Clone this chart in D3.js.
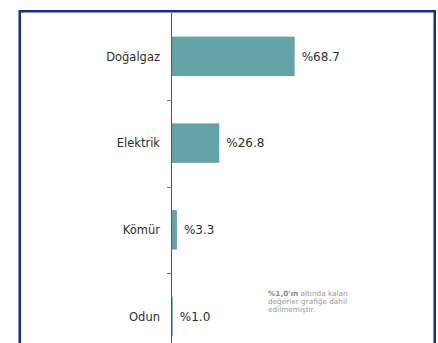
<!DOCTYPE html>
<html>
<head>
<meta charset="utf-8">
<script src="https://cdn.jsdelivr.net/npm/d3@7/dist/d3.min.js"></script>
<style>
  html, body { margin: 0; padding: 0; background: #fff; }
  svg { display: block; }
  text { font-family: "DejaVu Sans", Verdana, sans-serif; }
</style>
</head>
<body>
<svg id="chart" width="438" height="343"></svg>
<script>
// Isınma amaçlı kullanılan enerji kaynakları (%)
const categories = ["Doğalgaz", "Elektrik", "Kömür", "Odun"];
const values = [68.7, 26.8, 3.3, 1.0];
const valueLabels = ["%68.7", "%26.8", "%3.3", "%1.0"];
const noteBold = "%1,0'ın";
const noteLines = [" altında kalan", "değerler grafiğe dahil", "edilmemiştir."];

const svg = d3.select("#chart");

// frame
svg.append("rect")
  .attr("x", 19.75).attr("y", 11.25)
  .attr("width", 415).attr("height", 360)
  .attr("fill", "none")
  .attr("stroke", "#13307a")
  .attr("stroke-width", 2.5);

const axisX = 171;
const x = d3.scaleLinear().domain([0, 100]).range([axisX, axisX + 180]);
const y = d3.scaleBand()
  .domain(categories)
  .range([13, 360])
  .paddingInner(0.545)
  .paddingOuter(0.2725);

const data = categories.map((c, i) => ({ c, v: values[i], label: valueLabels[i] }));

// bars
svg.append("g").selectAll("rect")
  .data(data)
  .join("rect")
  .attr("x", x(0))
  .attr("y", d => y(d.c))
  .attr("width", d => x(d.v) - x(0))
  .attr("height", y.bandwidth())
  .attr("fill", "#64a3a8");

// axis line and ticks between categories
const axisG = svg.append("g");
axisG.append("line")
  .attr("x1", axisX + 0.5).attr("x2", axisX + 0.5)
  .attr("y1", y.range()[0]).attr("y2", y.range()[1])
  .attr("stroke", "#555").attr("stroke-width", 1);

const gap = (y.step() - y.bandwidth()) / 2;
axisG.selectAll("line.tick")
  .data(categories.slice(1))
  .join("line")
  .attr("class", "tick")
  .attr("x1", axisX - 4).attr("x2", axisX + 0.5)
  .attr("y1", d => Math.round(y(d) - gap) + 0.5)
  .attr("y2", d => Math.round(y(d) - gap) + 0.5)
  .attr("stroke", "#777").attr("stroke-width", 1);

// category labels
svg.append("g").selectAll("text")
  .data(data)
  .join("text")
  .attr("x", axisX - 11)
  .attr("y", d => y(d.c) + y.bandwidth() / 2)
  .attr("dy", "0.36em")
  .attr("text-anchor", "end")
  .attr("font-size", 11.5)
  .attr("fill", "#2e2e2e")
  .text(d => d.c);

// value labels
svg.append("g").selectAll("text")
  .data(data)
  .join("text")
  .attr("x", d => x(d.v) + 7)
  .attr("y", d => y(d.c) + y.bandwidth() / 2)
  .attr("dy", "0.36em")
  .attr("font-size", 12)
  .attr("fill", "#2e2e2e")
  .text(d => d.label);

// note
const note = svg.append("text")
  .attr("x", 268)
  .attr("y", 295.5)
  .attr("font-size", 7.3)
  .attr("fill", "#9a9a9a");
const t1 = note.append("tspan");
t1.append("tspan").attr("font-weight", "bold").attr("fill", "#888").text(noteBold);
t1.append("tspan").text(noteLines[0]);
noteLines.slice(1).forEach(l => {
  note.append("tspan").attr("x", 268).attr("dy", 8).text(l);
});
</script>
</body>
</html>
